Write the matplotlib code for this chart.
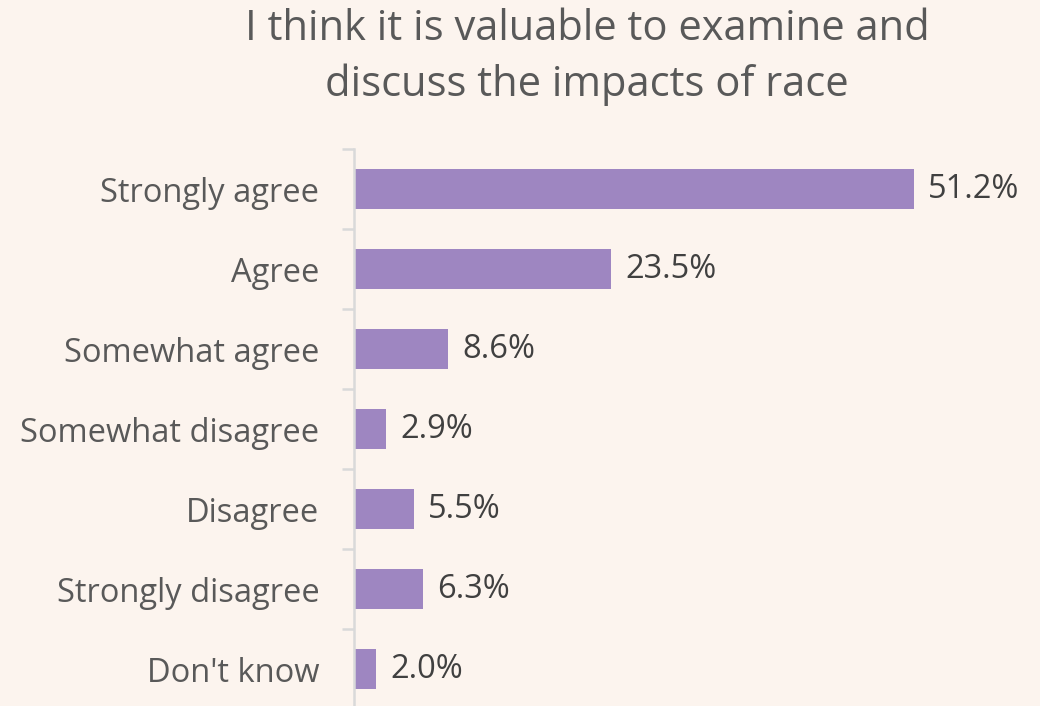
import matplotlib
matplotlib.use("Agg")
import matplotlib.pyplot as plt
import numpy as np

categories = ["Strongly agree", "Agree", "Somewhat agree", "Somewhat disagree",
              "Disagree", "Strongly disagree", "Don't know"]
values = [51.2, 23.5, 8.6, 2.9, 5.5, 6.3, 2.0]
title = "I think it is valuable to examine and\ndiscuss the impacts of race"

bg = "#FCF4EE"
bar_color = "#9E86C1"
axis_color = "#D9D9D9"

plt.rcParams["font.family"] = ["Open Sans", "DejaVu Sans"]

fig = plt.figure(figsize=(10.4, 7.06), dpi=100, facecolor=bg)
W, H = 1040, 706
left, right, top, bottom = 354, 1010, 149, 709
ax = fig.add_axes([left / W, (H - bottom) / H, (right - left) / W, (bottom - top) / H])
ax.set_facecolor(bg)

y = np.arange(len(categories))
ax.barh(y, values, height=0.5, color=bar_color, zorder=2)
ax.set_xlim(0, 60)
ax.set_ylim(len(categories) - 0.5, -0.5)

for yi, v in zip(y, values):
    ax.text(v + 1.3, yi, f"{v:.1f}%", va="center", ha="left",
            fontsize=23.5, color="#404040")

for s in ["top", "right", "bottom"]:
    ax.spines[s].set_visible(False)
ax.spines["left"].set_color(axis_color)
ax.spines["left"].set_linewidth(1.8)

ax.set_xticks([])
ax.set_yticks(np.arange(-0.5, len(categories), 1.0))
ax.set_yticklabels([])
ax.set_yticks(y, minor=True)
ax.set_yticklabels(categories, minor=True, fontsize=23.5, color="#595959")
ax.tick_params(axis="y", which="major", length=9, width=1.8, color=axis_color, direction="out")
ax.tick_params(axis="y", which="minor", length=0, pad=25)

fig.text(587 / W, 1 - 57 / H, title, ha="center", va="center",
         fontsize=30, color="#595959", linespacing=1.42)

fig.savefig("out.png", dpi=100, facecolor=bg)
